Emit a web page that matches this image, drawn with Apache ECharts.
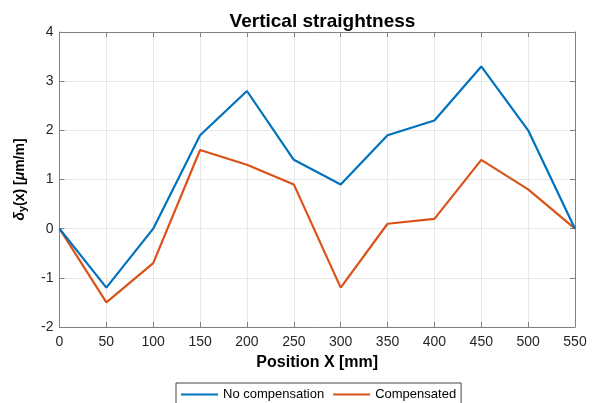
<!DOCTYPE html>
<html>
<head>
<meta charset="utf-8">
<script src="https://cdn.jsdelivr.net/npm/echarts@6/dist/echarts.min.js"></script>
<style>html,body{margin:0;padding:0;background:#fff;}#c{width:596px;height:403px;}</style>
</head>
<body>
<div id="c"></div>
<script>
const positions = [0, 50, 100, 150, 200, 250, 300, 350, 400, 450, 500, 550];
const noCompensation = [0, -1.2, 0, 1.9, 2.8, 1.4, 0.9, 1.9, 2.2, 3.3, 2.0, 0];
const compensated = [0, -1.5, -0.7, 1.6, 1.3, 0.9, -1.2, 0.1, 0.2, 1.4, 0.8, 0];
const seriesNames = ['No compensation', 'Compensated'];
const titleText = 'Vertical straightness';
const xName = 'Position X [mm]';

const font = 'Liberation Sans, Arial, Helvetica, sans-serif';
const axisColor = '#808080';
const gridColor = '#e8e8e8';

const chart = echarts.init(document.getElementById('c'), null, {renderer: 'canvas'});
const grid = {left: 59.5, right: 21, top: 32, bottom: 76};
const commonAxis = {
  axisLine: {show: true, onZero: false, lineStyle: {color: axisColor, width: 1}},
  axisTick: {show: true, inside: true, length: 5, lineStyle: {color: axisColor}},
};
chart.setOption({
  animation: false,
  backgroundColor: '#fff',
  title: {
    text: titleText, left: 317.5, top: 7, textAlign: 'center',
    textStyle: {fontFamily: font, fontSize: 19, fontWeight: 'bold', color: '#000'}
  },
  grid: grid,
  legend: {
    data: seriesNames,
    top: 383, left: 176,
    padding: [5, 5, 5, 5],
    itemGap: 9,
    itemWidth: 37, itemHeight: 2,
    icon: 'rect',
    borderColor: '#444', borderWidth: 1,
    backgroundColor: '#fff',
    textStyle: {fontFamily: font, fontSize: 13, color: '#000'}
  },
  xAxis: [{
    type: 'value', min: 0, max: 550, interval: 50,
    ...commonAxis,
    axisLabel: {fontFamily: font, fontSize: 14, color: '#262626', margin: 8},
    splitLine: {show: true, lineStyle: {color: gridColor, width: 1}},
    name: xName, nameLocation: 'middle', nameGap: 28,
    nameTextStyle: {fontFamily: font, fontSize: 16, fontWeight: 'bold', color: '#000'}
  }, {
    type: 'value', min: 0, max: 550, interval: 50, position: 'top',
    ...commonAxis,
    axisLabel: {show: false}, splitLine: {show: false}
  }],
  yAxis: [{
    type: 'value', min: -2, max: 4, interval: 1,
    ...commonAxis,
    axisLabel: {fontFamily: font, fontSize: 14, color: '#262626', margin: 6},
    splitLine: {show: true, lineStyle: {color: gridColor, width: 1}},
    name: '{d|δ}{s|y}{b|(x) [}{m|μ}{b|m/m]}',
    nameLocation: 'middle', nameGap: 31, nameRotate: 90,
    nameTextStyle: {
      fontFamily: font, fontSize: 14, fontWeight: 'bold', color: '#000',
      rich: {
        d: {fontFamily: font, fontSize: 14, fontStyle: 'italic', color: '#000'},
        s: {fontFamily: font, fontSize: 11, fontWeight: 'bold', color: '#000', verticalAlign: 'bottom', padding: [6, 0, 0, 0]},
        b: {fontFamily: font, fontSize: 14, fontWeight: 'bold', color: '#000'},
        m: {fontFamily: font, fontSize: 14, fontStyle: 'italic', color: '#000'}
      }
    }
  }, {
    type: 'value', min: -2, max: 4, interval: 1, position: 'right',
    ...commonAxis,
    axisLabel: {show: false}, splitLine: {show: false}
  }],
  series: [{
    name: seriesNames[0], type: 'line', symbol: 'none',
    data: positions.map((x, i) => [x, noCompensation[i]]),
    lineStyle: {color: '#0072BD', width: 2.2}, itemStyle: {color: '#0072BD'}, z: 3
  }, {
    name: seriesNames[1], type: 'line', symbol: 'none',
    data: positions.map((x, i) => [x, compensated[i]]),
    lineStyle: {color: '#D95319', width: 2.2}, itemStyle: {color: '#D95319'}, z: 2
  }]
});
</script>
</body>
</html>
